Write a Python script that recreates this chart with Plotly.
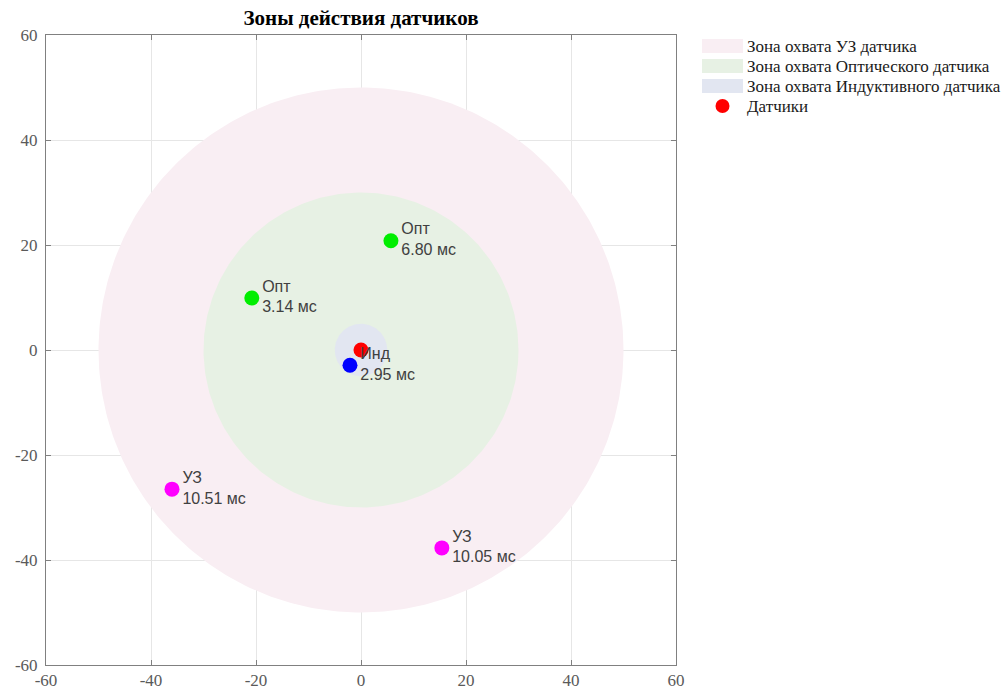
import numpy as np
import plotly.graph_objects as go

# ---- data ----
zone_names = ["Зона охвата УЗ датчика", "Зона охвата Оптического датчика", "Зона охвата Индуктивного датчика"]
zone_radii = [50, 30, 5]
zone_colors = ["#F9EEF3", "#E7F1E4", "#E2E6F1"]

sensor_types = ["Инд", "Опт", "Опт", "УЗ", "УЗ"]
sensor_x = [-2.1, 5.7, -20.8, -36.0, 15.4]
sensor_y = [-2.9, 20.8, 9.9, -26.5, -37.7]
sensor_times = [2.95, 6.80, 3.14, 10.51, 10.05]
sensor_colors = ["#0000FF", "#00EE00", "#00EE00", "#FF00FF", "#FF00FF"]

center_name = "Датчики"
center_x = [0]
center_y = [0]
center_color = "#FF0000"

ticks = [-60, -40, -20, 0, 20, 40, 60]

# ---- layout geometry (pixels) ----
W, H = 1006, 693
ML, MR, MT, MB = 46, 330, 35, 28
PW, PH = W - ML - MR, H - MT - MB


def px_x(px):
    return (px - ML) / PW


def px_y(py):
    return (H - MB - py) / PH


fig = go.Figure()

theta = np.linspace(0, 2 * np.pi, 361)
for name, r, c in zip(zone_names, zone_radii, zone_colors):
    fig.add_trace(go.Scatter(
        x=r * np.cos(theta), y=r * np.sin(theta),
        mode="lines", fill="toself", fillcolor=c,
        line=dict(width=0, color=c), name=name, hoverinfo="skip",
        showlegend=False))

fig.add_trace(go.Scatter(
    x=center_x, y=center_y, mode="markers",
    marker=dict(color=center_color, size=15), name=center_name,
    showlegend=False))

labels = [f"{t}<br>{v:.2f} мс" for t, v in zip(sensor_types, sensor_times)]
fig.add_trace(go.Scatter(
    x=sensor_x, y=sensor_y, mode="markers+text",
    marker=dict(color=sensor_colors, size=15),
    text=labels, textposition="middle right",
    textfont=dict(family="Liberation Sans, Arial", size=16, color="#404040"),
    showlegend=False))

# ---- manual legend (wide filled patches as in the reference) ----
legend_font = dict(family="Liberation Serif, Times New Roman", size=17, color="#1a1a1a")
row_centers = [46, 66, 86, 106]
shapes = []
annotations = []
for name, c, cy in zip(zone_names, zone_colors, row_centers[:3]):
    shapes.append(dict(type="rect", xref="paper", yref="paper",
                       x0=px_x(702), x1=px_x(743), y0=px_y(cy + 7), y1=px_y(cy - 7),
                       fillcolor=c, line=dict(width=0), layer="above"))
    annotations.append(dict(text=name, xref="paper", yref="paper",
                            x=px_x(745), y=px_y(cy), xanchor="left", yanchor="middle",
                            showarrow=False, font=legend_font))
cy = row_centers[3]
shapes.append(dict(type="circle", xref="paper", yref="paper",
                   xsizemode="pixel", ysizemode="pixel",
                   xanchor=px_x(722.5), yanchor=px_y(cy),
                   x0=-7, x1=7, y0=-7, y1=7,
                   fillcolor=center_color, line=dict(width=0), layer="above"))
annotations.append(dict(text=center_name, xref="paper", yref="paper",
                        x=px_x(745), y=px_y(cy), xanchor="left", yanchor="middle",
                        showarrow=False, font=legend_font))

axis_common = dict(
    range=[-60, 60], tickvals=ticks, ticktext=[str(t) for t in ticks],
    showgrid=True, gridcolor="#E6E6E6", gridwidth=1, automargin=False,
    zeroline=False, showline=True, linecolor="#808080", linewidth=1,
    mirror="ticks", ticks="inside", ticklen=5, tickcolor="#808080",
    tickfont=dict(family="Liberation Serif, Times New Roman", size=17, color="#5a5a5a"),
)

fig.update_layout(
    width=W, height=H,
    margin=dict(l=ML, r=MR, t=MT, b=MB),
    paper_bgcolor="white", plot_bgcolor="white",
    title=dict(text="<b>Зоны действия датчиков</b>", x=0.5, xref="paper",
               y=1 - 18 / H, yanchor="middle", automargin=False,
               font=dict(family="Liberation Serif, Times New Roman", size=21, color="black")),
    xaxis=dict(**axis_common),
    yaxis=dict(**axis_common, scaleanchor="x", scaleratio=1, ticklabelstandoff=4),
    showlegend=False,
    shapes=shapes,
    annotations=annotations,
)

fig.write_html("out.html")
